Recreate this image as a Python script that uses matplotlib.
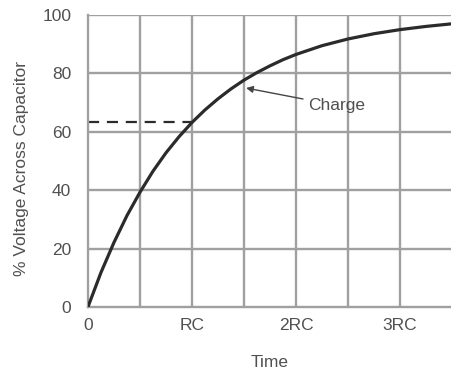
import matplotlib.pyplot as plt

plt.rcParams["font.family"] = ["Liberation Sans", "DejaVu Sans"]

# time in units of RC, % voltage
t_rc = [0, 0.125, 0.25, 0.375, 0.5, 0.625, 0.75, 0.875, 1.0, 1.125, 1.25,
        1.375, 1.5, 1.625, 1.75, 1.875, 2.0, 2.25, 2.5, 2.75, 3.0, 3.25, 3.5]
v_pct = [0, 11.8, 22.1, 31.3, 39.3, 46.5, 52.8, 58.3, 63.2, 67.5, 71.3,
         74.7, 77.7, 80.3, 82.6, 84.7, 86.5, 89.5, 91.8, 93.6, 95.0, 96.1, 97.0]

x_ticks = [0, 1, 2, 3]
x_labels = ["0", "RC", "2RC", "3RC"]
y_ticks = [0, 20, 40, 60, 80, 100]
tau_level = 63.2
charge_label = "Charge"
charge_at = (1.52, 75)

fig = plt.figure(figsize=(4.51, 3.71), dpi=100)
ax = fig.add_axes([0.195, 0.1725, 0.805, 0.787])

grid_c = "#a0a0a0"
txt_c = "#505050"
fs = 12.5

for x in [0.5, 1, 1.5, 2, 2.5, 3]:
    ax.axvline(x, color=grid_c, lw=1.7, zorder=1)
for y in y_ticks[1:]:
    ax.axhline(y, color=grid_c, lw=1.7, zorder=1)

ax.plot(t_rc, v_pct, color="#2b2b2b", lw=2.3, zorder=3)
ax.plot([0, 1], [tau_level, tau_level], color="#2b2b2b", lw=1.6,
        dashes=(5, 3.5), zorder=2)

ax.annotate(charge_label, xy=charge_at, xytext=(2.12, 69),
            fontsize=fs, color=txt_c, va="center", ha="left",
            arrowprops=dict(arrowstyle="-|>", color="#444444", lw=1.0,
                            mutation_scale=10, shrinkA=2, shrinkB=0))

ax.set_xlim(0, 3.49)
ax.set_ylim(0, 100)
ax.set_xticks(x_ticks)
ax.set_xticklabels(x_labels)
ax.set_yticks(y_ticks)
ax.tick_params(axis="y", length=0, labelsize=fs, labelcolor=txt_c, pad=12)
ax.tick_params(axis="x", length=0, labelsize=fs, labelcolor=txt_c, pad=8)

for side in ["top", "right"]:
    ax.spines[side].set_visible(False)
ax.spines["left"].set_color(grid_c)
ax.spines["left"].set_linewidth(1.7)
ax.spines["bottom"].set_color(grid_c)
ax.spines["bottom"].set_linewidth(1.7)

ax.set_xlabel("Time", fontsize=fs, color=txt_c, labelpad=16)
ax.set_ylabel("% Voltage Across Capacitor", fontsize=fs, color=txt_c)
ax.yaxis.set_label_coords(-0.163, 0.475)

fig.savefig("out.png", dpi=100)
